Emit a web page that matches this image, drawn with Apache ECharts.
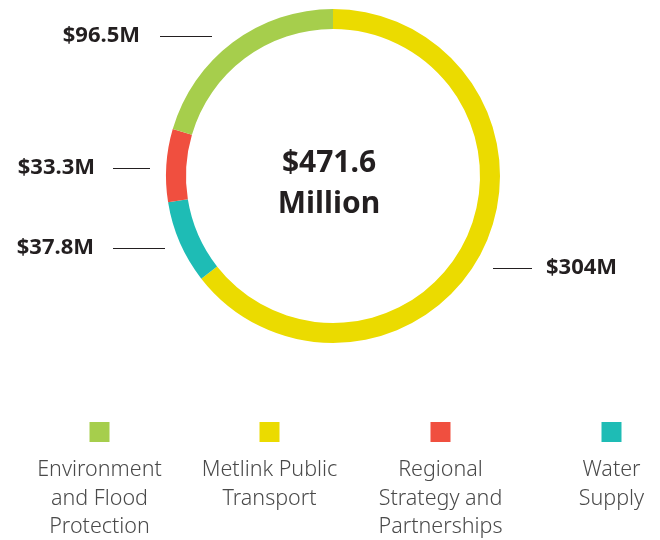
<!DOCTYPE html>
<html lang="en">
<head>
  <meta charset="UTF-8">
  <title>Budget donut</title>
  <script src="https://cdn.jsdelivr.net/npm/echarts@6/dist/echarts.min.js"></script>
  <style>
    body { margin: 0; padding: 0; background: #fff; }
  </style>
</head>
<body>
  <div id="chart" style="width: 660px; height: 540px;"></div>
  <script>
    // 数据（饼图顺序：从顶部顺时针）
    var categories = ['Metlink Public Transport', 'Water Supply', 'Regional Strategy and Partnerships', 'Environment and Flood Protection'];
    var values = [304, 37.8, 33.3, 96.5];
    var valueLabels = ['$304M', '$37.8M', '$33.3M', '$96.5M'];
    var colors = ['#ebdb00', '#1ebcb5', '#f04f3f', '#a6ce4c'];
    var totalText = '$471.6\nMillion';

    // 图例顺序和换行
    var legendOrder = [3, 0, 2, 1];
    var legendText = ['Environment\nand Flood\nProtection', 'Metlink Public\nTransport', 'Regional\nStrategy and\nPartnerships', 'Water\nSupply'];

    // 标签位置
    var labelPos = [
      { x: 546, y: 268, align: 'left', line: [493, 532] },
      { x: 94, y: 248, align: 'right', line: [113, 165] },
      { x: 95, y: 168, align: 'right', line: [113, 150] },
      { x: 140, y: 36, align: 'right', line: [160, 212] }
    ];

    var legendX = [99.5, 269.5, 440.5, 611.5];

    var chart = echarts.init(document.getElementById('chart'));

    var graphics = [{
      type: 'text',
      style: {
        text: totalText,
        x: 329,
        y: 184,
        align: 'center',
        verticalAlign: 'middle',
        font: 'bold 30px "Noto Sans"',
        lineHeight: 41,
        fill: '#231f20'
      }
    }];
    legendOrder.forEach(function (idx, i) {
      graphics.push({
        type: 'rect',
        shape: { x: legendX[i] - 10, y: 422, width: 20, height: 20 },
        style: { fill: colors[idx] }
      });
      graphics.push({
        type: 'text',
        style: {
          text: legendText[i],
          x: legendX[i],
          y: 456,
          align: 'center',
          verticalAlign: 'top',
          font: '300 21.5px "Noto Sans"',
          lineHeight: 28.5,
          fill: '#4a4a4a'
        }
      });
    });

    var option = {
      animation: false,
      graphic: graphics,
      series: [{
        type: 'pie',
        center: [333, 176],
        radius: [147, 167],
        startAngle: 90,
        clockwise: true,
        silent: true,
        itemStyle: { borderWidth: 0 },
        label: {
          show: true,
          position: 'outside',
          formatter: function (p) { return valueLabels[p.dataIndex]; },
          fontFamily: 'Noto Sans',
          fontWeight: 'bold',
          fontSize: 22,
          color: '#231f20'
        },
        labelLine: {
          show: true,
          lineStyle: { color: '#231f20', width: 1 }
        },
        labelLayout: function (p) {
          var pos = labelPos[p.dataIndex];
          return {
            x: pos.x,
            y: pos.y,
            align: pos.align,
            verticalAlign: 'middle',
            labelLinePoints: [[pos.line[0], pos.y + 0.5], [pos.line[1], pos.y + 0.5], [pos.line[1], pos.y + 0.5]]
          };
        },
        data: categories.map(function (c, i) {
          return { name: c, value: values[i], itemStyle: { color: colors[i] } };
        })
      }]
    };
    chart.setOption(option);
  </script>
</body>
</html>
